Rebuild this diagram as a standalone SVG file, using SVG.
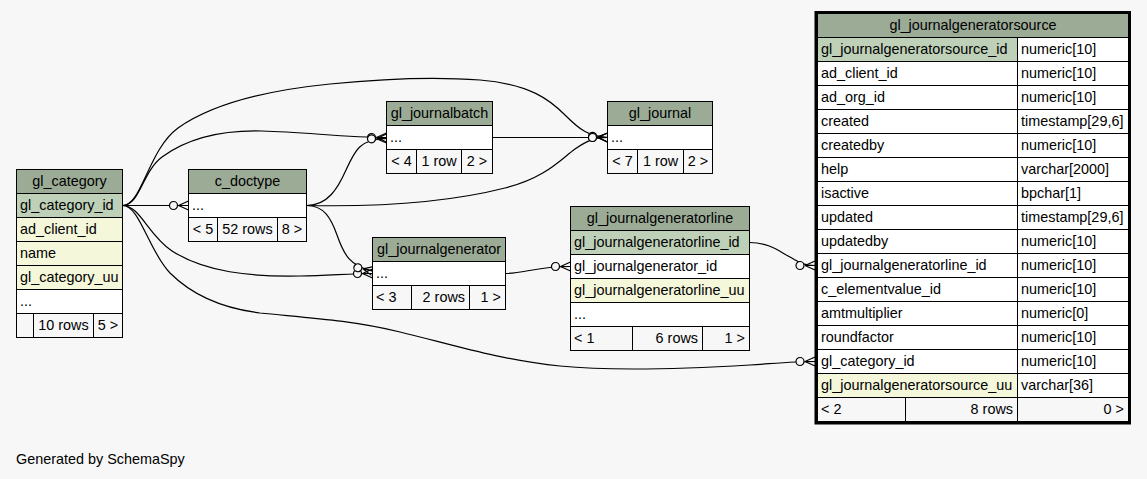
<svg xmlns="http://www.w3.org/2000/svg" width="1147" height="479" viewBox="0 0 1147 479">
<style>
text{font-family:"Liberation Sans",Arial,sans-serif;font-size:14.4px;fill:#000}
.tb rect{stroke:#000;stroke-width:1}
.h{fill:#9bab96}
.pk{fill:#bed1b8}
.ix{fill:#f4f7da}
.w{fill:#fff}
.f{fill:#f7f7f7}
.c{text-anchor:middle}
.r{text-anchor:end}
.e{fill:none;stroke:#000;stroke-width:1.2;marker-end:url(#crow)}
</style>
<defs>
<marker id="crow" markerUnits="userSpaceOnUse" viewBox="-22 -8 24 16" refX="0" refY="0" markerWidth="24" markerHeight="16" orient="auto" overflow="visible">
<circle cx="-15" cy="0" r="4" fill="#f7f7f7" stroke="#000" stroke-width="1.2"/>
<path d="M-10,0 L0,-4.5 M-10,0 L0,4.5 M-10,0 L0,0" fill="none" stroke="#000" stroke-width="1.2"/>
</marker>
</defs>
<rect x="0" y="0" width="1147" height="479" fill="#f7f7f7"/>

<g id="connectors">
<path class="e" d="M122.5,205.5 L188.5,205.5"/>
<path class="e" d="M122.5,205.5 C140,205.5 142,172 162,157 C188,138 222,130 262,131 C305,132 345,137.5 386.5,137.5"/>
<path class="e" d="M122.5,205.5 C142,205.5 148,150 178,128 C215,102 270,90 330,84 C390,78 440,77 480,80 C530,84 550,100 565,115 C580,130 588,136 607.5,137.5"/>
<path class="e" d="M306.5,205.5 C328,205.5 338,188 346,170 C355,150 360,139 386.5,138.5"/>
<path class="e" d="M306.5,205.5 C380,207 450,202 505,188 C545,178 560,160 575,149 C588,140 595,137.5 607.5,137.5"/>
<path class="e" d="M492.5,137.5 L607.5,137.5"/>
<path class="e" d="M122.5,205.5 C140,205.5 148,235 172,251 C205,272 250,277 300,276 C330,275.5 350,273.5 372.5,273.5"/>
<path class="e" d="M306.5,205.5 C324,205.5 331,218 337,235 C344,255 350,266 372.5,271"/>
<path class="e" d="M505.5,273.5 C525,273.5 535,266.5 570.5,266.5"/>
<path class="e" d="M749.5,242.5 C770,242.5 780,252 790,257 C800,262.5 803,265.5 815,265.5"/>
<path class="e" d="M122.5,205.5 C140,205.5 148,250 170,273 C190,293 220,308 260,313 C310,318 350,320 400,332 C450,344 500,360 560,366 C620,372 700,368 750,365 C780,363 795,361.5 815,361.5"/>
</g>

<g id="gl_category" class="tb">
<rect class="h" x="16.5" y="169.5" width="106" height="24"/><text class="c" x="69.5" y="185.5">gl_category</text>
<rect class="pk" x="16.5" y="193.5" width="106" height="24"/><text x="20" y="209.5">gl_category_id</text>
<rect class="ix" x="16.5" y="217.5" width="106" height="24"/><text x="20" y="233.5">ad_client_id</text>
<rect class="ix" x="16.5" y="241.5" width="106" height="24"/><text x="20" y="257.5">name</text>
<rect class="ix" x="16.5" y="265.5" width="106" height="24"/><text x="20" y="281.5">gl_category_uu</text>
<rect class="w" x="16.5" y="289.5" width="106" height="24"/><text x="20" y="305.5">...</text>
<rect class="f" x="16.5" y="313.5" width="17" height="24"/>
<rect class="f" x="33.5" y="313.5" width="60" height="24"/><text class="c" x="63.5" y="329.5">10 rows</text>
<rect class="f" x="93.5" y="313.5" width="29" height="24"/><text class="c" x="108" y="329.5">5 &gt;</text>
</g>

<g id="c_doctype" class="tb">
<rect class="h" x="188.5" y="169.5" width="118" height="24"/><text class="c" x="247.5" y="185.5">c_doctype</text>
<rect class="w" x="188.5" y="193.5" width="118" height="24"/><text x="192" y="209.5">...</text>
<rect class="f" x="188.5" y="217.5" width="29" height="24"/><text class="c" x="203" y="233.5">&lt; 5</text>
<rect class="f" x="217.5" y="217.5" width="60" height="24"/><text class="c" x="247.5" y="233.5">52 rows</text>
<rect class="f" x="277.5" y="217.5" width="29" height="24"/><text class="c" x="292" y="233.5">8 &gt;</text>
</g>

<g id="gl_journalbatch" class="tb">
<rect class="h" x="386.5" y="101.5" width="106" height="24"/><text class="c" x="439.5" y="117.5">gl_journalbatch</text>
<rect class="w" x="386.5" y="125.5" width="106" height="24"/><text x="390" y="141.5">...</text>
<rect class="f" x="386.5" y="149.5" width="30" height="24"/><text class="c" x="401.5" y="165.5">&lt; 4</text>
<rect class="f" x="416.5" y="149.5" width="45" height="24"/><text class="c" x="439" y="165.5">1 row</text>
<rect class="f" x="461.5" y="149.5" width="31" height="24"/><text class="c" x="477" y="165.5">2 &gt;</text>
</g>

<g id="gl_journal" class="tb">
<rect class="h" x="607.5" y="101.5" width="105" height="24"/><text class="c" x="660" y="117.5">gl_journal</text>
<rect class="w" x="607.5" y="125.5" width="105" height="24"/><text x="611" y="141.5">...</text>
<rect class="f" x="607.5" y="149.5" width="30" height="24"/><text class="c" x="622.5" y="165.5">&lt; 7</text>
<rect class="f" x="637.5" y="149.5" width="46" height="24"/><text class="c" x="660.5" y="165.5">1 row</text>
<rect class="f" x="683.5" y="149.5" width="29" height="24"/><text class="c" x="698" y="165.5">2 &gt;</text>
</g>

<g id="gl_journalgenerator" class="tb">
<rect class="h" x="372.5" y="237.5" width="133" height="24"/><text class="c" x="439" y="253.5">gl_journalgenerator</text>
<rect class="w" x="372.5" y="261.5" width="133" height="24"/><text x="376" y="277.5">...</text>
<rect class="f" x="372.5" y="285.5" width="39" height="24"/><text x="376" y="301.5">&lt; 3</text>
<rect class="f" x="411.5" y="285.5" width="58" height="24"/><text class="r" x="465" y="301.5">2 rows</text>
<rect class="f" x="469.5" y="285.5" width="36" height="24"/><text class="r" x="501" y="301.5">1 &gt;</text>
</g>

<g id="gl_journalgeneratorline" class="tb">
<rect class="h" x="570.5" y="206.5" width="179" height="24"/><text class="c" x="660" y="222.5">gl_journalgeneratorline</text>
<rect class="pk" x="570.5" y="230.5" width="179" height="24"/><text x="574" y="246.5">gl_journalgeneratorline_id</text>
<rect class="w" x="570.5" y="254.5" width="179" height="24"/><text x="574" y="270.5">gl_journalgenerator_id</text>
<rect class="ix" x="570.5" y="278.5" width="179" height="24"/><text x="574" y="294.5">gl_journalgeneratorline_uu</text>
<rect class="w" x="570.5" y="302.5" width="179" height="24"/><text x="574" y="318.5">...</text>
<rect class="f" x="570.5" y="326.5" width="62" height="24"/><text x="574" y="342.5">&lt; 1</text>
<rect class="f" x="632.5" y="326.5" width="70" height="24"/><text class="r" x="698" y="342.5">6 rows</text>
<rect class="f" x="702.5" y="326.5" width="47" height="24"/><text class="r" x="745" y="342.5">1 &gt;</text>
</g>

<g id="gl_journalgeneratorsource" class="tb">
<rect class="h" x="817.5" y="13.5" width="311" height="24"/><text class="c" x="973" y="29.5">gl_journalgeneratorsource</text>
<rect class="pk" x="817.5" y="37.5" width="200" height="24"/><rect class="w" x="1017.5" y="37.5" width="111" height="24"/>
<text x="821" y="53.5">gl_journalgeneratorsource_id</text><text x="1021" y="53.5">numeric[10]</text>
<rect class="w" x="817.5" y="61.5" width="200" height="24"/><rect class="w" x="1017.5" y="61.5" width="111" height="24"/>
<text x="821" y="77.5">ad_client_id</text><text x="1021" y="77.5">numeric[10]</text>
<rect class="w" x="817.5" y="85.5" width="200" height="24"/><rect class="w" x="1017.5" y="85.5" width="111" height="24"/>
<text x="821" y="101.5">ad_org_id</text><text x="1021" y="101.5">numeric[10]</text>
<rect class="w" x="817.5" y="109.5" width="200" height="24"/><rect class="w" x="1017.5" y="109.5" width="111" height="24"/>
<text x="821" y="125.5">created</text><text x="1021" y="125.5">timestamp[29,6]</text>
<rect class="w" x="817.5" y="133.5" width="200" height="24"/><rect class="w" x="1017.5" y="133.5" width="111" height="24"/>
<text x="821" y="149.5">createdby</text><text x="1021" y="149.5">numeric[10]</text>
<rect class="w" x="817.5" y="157.5" width="200" height="24"/><rect class="w" x="1017.5" y="157.5" width="111" height="24"/>
<text x="821" y="173.5">help</text><text x="1021" y="173.5">varchar[2000]</text>
<rect class="w" x="817.5" y="181.5" width="200" height="24"/><rect class="w" x="1017.5" y="181.5" width="111" height="24"/>
<text x="821" y="197.5">isactive</text><text x="1021" y="197.5">bpchar[1]</text>
<rect class="w" x="817.5" y="205.5" width="200" height="24"/><rect class="w" x="1017.5" y="205.5" width="111" height="24"/>
<text x="821" y="221.5">updated</text><text x="1021" y="221.5">timestamp[29,6]</text>
<rect class="w" x="817.5" y="229.5" width="200" height="24"/><rect class="w" x="1017.5" y="229.5" width="111" height="24"/>
<text x="821" y="245.5">updatedby</text><text x="1021" y="245.5">numeric[10]</text>
<rect class="w" x="817.5" y="253.5" width="200" height="24"/><rect class="w" x="1017.5" y="253.5" width="111" height="24"/>
<text x="821" y="269.5">gl_journalgeneratorline_id</text><text x="1021" y="269.5">numeric[10]</text>
<rect class="w" x="817.5" y="277.5" width="200" height="24"/><rect class="w" x="1017.5" y="277.5" width="111" height="24"/>
<text x="821" y="293.5">c_elementvalue_id</text><text x="1021" y="293.5">numeric[10]</text>
<rect class="w" x="817.5" y="301.5" width="200" height="24"/><rect class="w" x="1017.5" y="301.5" width="111" height="24"/>
<text x="821" y="317.5">amtmultiplier</text><text x="1021" y="317.5">numeric[0]</text>
<rect class="w" x="817.5" y="325.5" width="200" height="24"/><rect class="w" x="1017.5" y="325.5" width="111" height="24"/>
<text x="821" y="341.5">roundfactor</text><text x="1021" y="341.5">numeric[10]</text>
<rect class="w" x="817.5" y="349.5" width="200" height="24"/><rect class="w" x="1017.5" y="349.5" width="111" height="24"/>
<text x="821" y="365.5">gl_category_id</text><text x="1021" y="365.5">numeric[10]</text>
<rect class="ix" x="817.5" y="373.5" width="200" height="24"/><rect class="w" x="1017.5" y="373.5" width="111" height="24"/>
<text x="821" y="389.5">gl_journalgeneratorsource_uu</text><text x="1021" y="389.5">varchar[36]</text>
<rect class="f" x="817.5" y="397.5" width="88" height="24"/><text x="821" y="413.5">&lt; 2</text>
<rect class="f" x="905.5" y="397.5" width="112" height="24"/><text class="r" x="1013" y="413.5">8 rows</text>
<rect class="f" x="1017.5" y="397.5" width="111" height="24"/><text class="r" x="1124" y="413.5">0 &gt;</text>
<rect x="816" y="12.5" width="313.5" height="410.5" fill="none" style="stroke-width:3"/>
</g>

<text x="16" y="464">Generated by SchemaSpy</text>
</svg>
